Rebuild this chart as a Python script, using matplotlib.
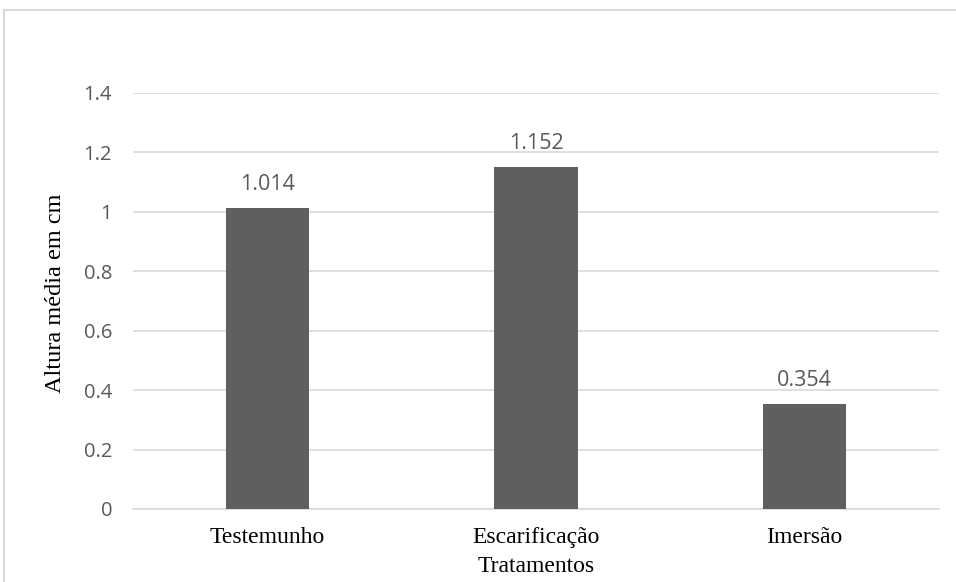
import matplotlib.pyplot as plt
from matplotlib.lines import Line2D

# dados do gráfico
tratamentos = ["Testemunho", "Escarificação", "Imersão"]
altura_media = [1.014, 1.152, 0.354]
yticks = [0, 0.2, 0.4, 0.6, 0.8, 1, 1.2, 1.4]
ytick_labels = ["0", "0.2", "0.4", "0.6", "0.8", "1", "1.2", "1.4"]

W, H = 956, 582
fig = plt.figure(figsize=(W / 100, H / 100), dpi=100)
ax = fig.add_axes([133 / W, 1 - 509 / H, (939 - 133) / W, (509 - 93) / H])

# moldura do gráfico (só topo e esquerda aparecem)
fig.lines.append(Line2D([4 / W, 1.0], [1 - 10 / H, 1 - 10 / H],
                        transform=fig.transFigure, color="#d9d9d9", linewidth=1.5))
fig.lines.append(Line2D([4 / W, 4 / W], [0, 1 - 10 / H],
                        transform=fig.transFigure, color="#d9d9d9", linewidth=1.5))

x = range(len(tratamentos))
bars = ax.bar(x, altura_media, width=0.31, color="#5f5f5f", zorder=3)

for b, v in zip(bars, altura_media):
    ax.annotate(f"{v:.3f}", (b.get_x() + b.get_width() / 2, v),
                xytext=(0, 13), textcoords="offset points",
                ha="center", va="baseline", fontsize=15.5,
                family="Open Sans", color="#595959")

ax.set_xlim(-0.5, 2.5)
ax.set_ylim(0, 1.4)
ax.set_yticks(yticks)
ax.set_yticklabels(ytick_labels, family="Open Sans", fontsize=14.5, color="#595959")
ax.set_xticks(list(x))
ax.set_xticklabels(tratamentos, family="Liberation Serif", fontsize=17, color="black")
ax.tick_params(axis="both", length=0)
ax.tick_params(axis="y", pad=15)
ax.tick_params(axis="x", pad=13)

ax.grid(axis="y", color="#d9d9d9", linewidth=1.2, zorder=0)
for s in ["top", "right", "left"]:
    ax.spines[s].set_visible(False)
ax.spines["bottom"].set_color("#d9d9d9")
ax.spines["bottom"].set_linewidth(1.2)

ax.set_xlabel("Tratamentos", family="Liberation Serif", fontsize=17, va="top")
ax.xaxis.set_label_coords(0.5, -0.114)
fig.text(56 / W, 1 - 293 / H, "Altura média em cm", rotation=90,
         ha="center", va="center", family="Liberation Serif", fontsize=17.5)

fig.savefig("out.png", dpi=100)
